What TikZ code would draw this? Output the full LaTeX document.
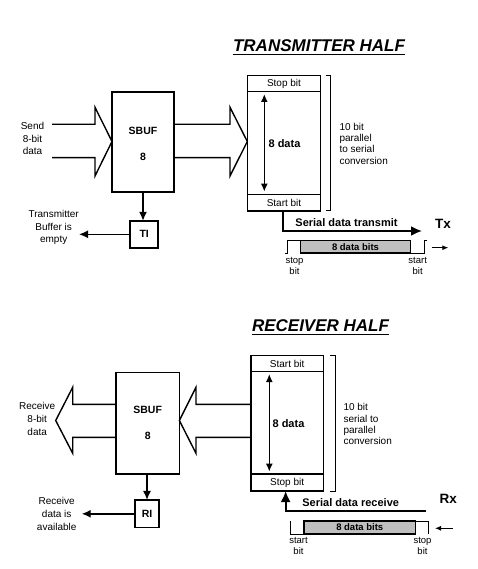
\documentclass[tikz,border=0pt]{standalone}
\usepackage{fontspec}
\setmainfont{Liberation Sans}
\usetikzlibrary{arrows.meta,calc}
\begin{document}
\begin{tikzpicture}[x=1pt,y=-1pt,
  box/.style={draw, line width=1.5pt, outer sep=0pt, inner sep=0pt},
  txt/.style={inner sep=0pt, font=\fontsize{10}{12.8}\selectfont, align=center},
  ltxt/.style={inner sep=0pt, font=\fontsize{10}{11.3}\selectfont, align=left, anchor=west},
  btxt/.style={inner sep=0pt, font=\bfseries\fontsize{10.5}{12}\selectfont},
  bigtxt/.style={inner sep=0pt, font=\bfseries\fontsize{13.5}{15}\selectfont},
  titletxt/.style={inner sep=0pt, font=\bfseries\itshape\fontsize{17}{20}\selectfont, anchor=base},
  smalltip/.style={-{Latex[length=9pt,width=8pt]}, line width=1.4pt},
  bigtip/.style={-{Latex[length=11pt,width=10pt]}, line width=1.9pt},
  dbl/.style={{Latex[length=8pt,width=7pt]}-{Latex[length=8pt,width=7pt]}, line width=1.6pt},
  hollow/.style={line width=1.4pt, line join=miter},
  bracket/.style={line width=0.8pt},
  wave/.style={line width=0.6pt},
  bitsbox/.style={draw, line width=1.3pt, fill=gray!50, inner sep=0pt, outer sep=0pt},
  tinytip/.style={-{Latex[length=6pt,width=5pt]}, line width=1pt}
]
\useasboundingbox (0,0) rectangle (477,569);
\fill[white] (0,0) rectangle (477,569);

% ================= TRANSMITTER HALF =================
\node[titletxt] (titleT) at (319,52) {TRANSMITTER HALF};
\draw[line width=1.4pt] ($(titleT.base west)+(0,2.6)$) -- ($(titleT.base east)+(0,2.6)$);

\node[txt] (sendT) at (32.5,138.5) {Send\\8-bit\\data};

\node[box, minimum width=62pt, minimum height=100pt] (sbufT) at (143,142) {};
\node[btxt] (sbufTa) at (143,131) {SBUF};
\node[btxt] (sbufTb) at (143,157) {8};

% input hollow arrow
\draw[hollow] (52,124.3) -- (95,124.3) -- (95,107.3) -- (sbufT.west |- 0,141.5) -- (95,176) -- (95,157.7) -- (52,157.7);

% register
\node[box, minimum width=73.4pt, minimum height=16pt, anchor=north west, font=\fontsize{10}{12}\selectfont] (stopT) at (247.3,75.7) {Stop bit};
\node[box, minimum width=73.4pt, minimum height=102.6pt, anchor=north west] (dataT) at (247.3,91.7) {};
\node[box, minimum width=73.4pt, minimum height=16.7pt, anchor=north west, font=\fontsize{10}{12}\selectfont] (startT) at (247.3,194.3) {Start bit};
\node[inner sep=0pt, font=\bfseries\fontsize{11}{13}\selectfont] (dataTl) at (284.5,143.3) {8 data};
\draw[dbl] (264.3,94) -- (264.3,191.7);

% middle hollow arrow
\draw[hollow] (sbufT.east |- 0,124.3) -- (230,124.3) -- (230,107.3) -- (dataT.west |- 0,141.5) -- (230,176) -- (230,157.7) -- (sbufT.east |- 0,157.7);

% bracket
\draw[bracket] (325.7,75.7) -- (330.7,75.7) -- (330.7,210) -- (325.7,210);
\node[ltxt] (convT) at (339.3,143.5) {10 bit\\parallel\\to serial\\conversion};

% TI
\node[box, minimum width=28pt, minimum height=27pt, font=\bfseries\fontsize{10.5}{12}\selectfont] (ti) at (144.2,234.3) {TI};
\draw[smalltip] (sbufT.south) -- (sbufT.south |- ti.north);
\coordinate (tiEnd) at (79,234.3);
\draw[smalltip] (ti.west) -- (tiEnd);
\node[txt] (tiLbl) at (53.7,227.5) {Transmitter\\Buffer is\\empty};

% serial transmit
\coordinate (txEnd) at (422,231);
\draw[bigtip] ($(startT.south)+(-0.7,0)$) |- (txEnd);
\node[btxt, font=\bfseries\fontsize{11}{13}\selectfont] (txLbl) at (346.5,222.5) {Serial data transmit};
\node[bigtxt] (tx) at (443,224) {Tx};

% timing
\draw[wave] (284.7,253) -- (287.3,253) -- (287.3,240.5) -- (300.7,240.5);
\node[bitsbox, minimum width=109.6pt, minimum height=12.5pt, anchor=north west, font=\bfseries\fontsize{9.5}{11}\selectfont] (bitsT) at (300.7,240.5) {8 data bits};
\draw[wave] (bitsT.south east) -- (424.3,253) -- (424.3,240.5) -- (426.7,240.5);
\node[txt, font=\fontsize{9.5}{10.7}\selectfont] (stopTl) at (294.5,266.3) {stop\\bit};
\node[txt, font=\fontsize{9.5}{10.7}\selectfont] (startTl) at (417.7,266.3) {start\\bit};
\coordinate (aTa) at (431.7,247.7);
\coordinate (aTb) at (448.3,247.7);
\draw[tinytip] (aTa) -- (aTb);

% ================= RECEIVER HALF =================
\node[titletxt] (titleR) at (320.5,331.7) {RECEIVER HALF};
\draw[line width=1.4pt] ($(titleR.base west)+(0,2.6)$) -- ($(titleR.base east)+(0,2.6)$);

\node[txt] (recvR) at (37.2,419) {Receive\\8-bit\\data};

\node[box, minimum width=63.3pt, minimum height=101.7pt] (sbufR) at (147.7,423.2) {};
\node[btxt] (sbufRa) at (147.7,410) {SBUF};
\node[btxt] (sbufRb) at (147.7,436) {8};

% output hollow arrow
\draw[hollow] (sbufR.west |- 0,404.3) -- (72.7,404.3) -- (72.7,387.3) -- (55.7,420.5) -- (72.7,453.3) -- (72.7,437.3) -- (sbufR.west |- 0,437.3);

% register
\node[box, minimum width=72.3pt, minimum height=16pt, anchor=north west, font=\fontsize{10}{12}\selectfont] (startR) at (251,355.7) {Start bit};
\node[box, minimum width=72.3pt, minimum height=102.3pt, anchor=north west] (dataR) at (251,371.7) {};
\node[box, minimum width=72.3pt, minimum height=17pt, anchor=north west, font=\fontsize{10}{12}\selectfont] (stopR) at (251,474) {Stop bit};
\node[inner sep=0pt, font=\bfseries\fontsize{11}{13}\selectfont] (dataRl) at (288.5,423.3) {8 data};
\draw[dbl] (269.3,374) -- (269.3,471.7);

% middle hollow arrow
\draw[hollow] (dataR.west |- 0,404.3) -- (196,404.3) -- (196,387.3) -- (sbufR.east |- 0,420.5) -- (196,453.3) -- (196,437.3) -- (dataR.west |- 0,437.3);

% bracket
\draw[bracket] (330,355.7) -- (335,355.7) -- (335,491) -- (330,491);
\node[ltxt] (convR) at (343.3,424.3) {10 bit\\serial to\\parallel\\conversion};

% RI
\node[box, minimum width=24pt, minimum height=27.7pt, font=\bfseries\fontsize{10.5}{12}\selectfont] (ri) at (147,513.8) {RI};
\draw[smalltip] (sbufR.south -| ri) -- (ri.north);
\coordinate (riEnd) at (81.7,513.8);
\draw[smalltip] (ri.west) -- (riEnd);
\node[txt] (riLbl) at (56.7,513.8) {Receive\\data is\\available};

% serial receive
\coordinate (rxStart) at (426,510.7);
\draw[bigtip] (rxStart) -| ($(stopR.south)+(-1.5,0)$);
\node[btxt, font=\bfseries\fontsize{11}{13}\selectfont] (rxLbl) at (350.7,502.7) {Serial data receive};
\node[bigtxt] (rx) at (448.3,499.3) {Rx};

% timing
\draw[wave] (290.5,521) -- (290.5,534) -- (304,534);
\node[bitsbox, minimum width=111.5pt, minimum height=13pt, anchor=north west, font=\bfseries\fontsize{9.5}{11}\selectfont] (bitsR) at (304,521) {8 data bits};
\draw[wave] (bitsR.north east) -- (428.7,521) -- (428.7,534);
\node[txt, font=\fontsize{9.5}{10.7}\selectfont] (startRl) at (298.5,546) {start\\bit};
\node[txt, font=\fontsize{9.5}{10.7}\selectfont] (stopRl) at (422.5,546) {stop\\bit};
\coordinate (aRa) at (452.7,528.3);
\coordinate (aRb) at (435,528.3);
\draw[tinytip] (aRa) -- (aRb);
\end{tikzpicture}
\end{document}
